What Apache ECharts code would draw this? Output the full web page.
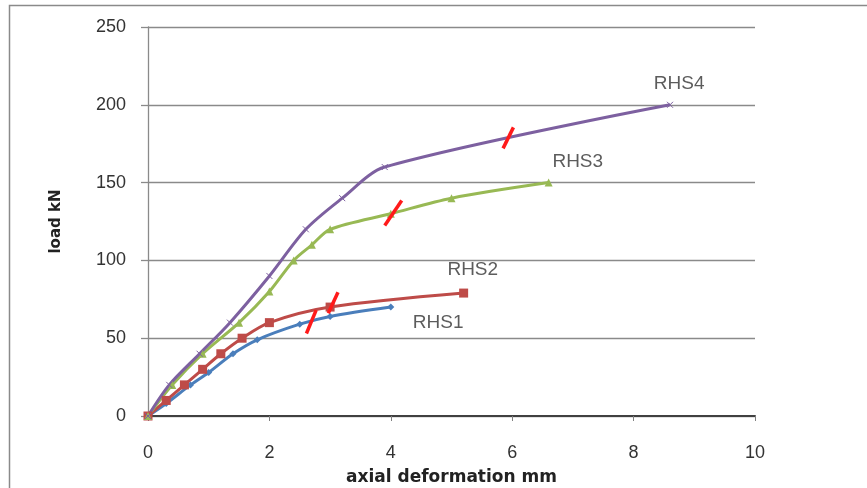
<!DOCTYPE html>
<html>
<head>
<meta charset="utf-8">
<script src="https://cdn.jsdelivr.net/npm/echarts@6/dist/echarts.min.js"></script>
<style>
  html, body { margin: 0; padding: 0; background: #fff; }
  #chart { width: 867px; height: 488px; }
</style>
</head>
<body>
<div id="chart"></div>
<script>
// load vs axial deformation, RHS1..RHS4
var rhs1X = [0, 0.3, 0.7, 1.0, 1.4, 1.8, 2.5, 3.0, 4.0];
var rhs1Y = [0, 8, 20, 28, 40, 49, 59, 64, 70];
var rhs2X = [0, 0.3, 0.6, 0.9, 1.2, 1.55, 2.0, 3.0, 5.2];
var rhs2Y = [0, 10, 20, 30, 40, 50, 60, 70, 79];
var rhs3X = [0, 0.4, 0.9, 1.5, 2.0, 2.4, 2.7, 3.0, 4.0, 5.0, 6.6];
var rhs3Y = [0, 20, 40, 60, 80, 100, 110, 120, 130, 140, 150];
var rhs4X = [0, 0.35, 0.85, 1.35, 2.0, 2.6, 3.2, 3.9, 8.6];
var rhs4Y = [0, 20, 40, 60, 90, 120, 140, 160, 200];

var labelNames = ['RHS1', 'RHS2', 'RHS3', 'RHS4'];
var labelX = [4.78, 5.35, 7.08, 8.75];
var labelY = [60, 94, 163.5, 213.5];

// red slash marks drawn across each curve
var slashX1 = [2.61, 2.97, 3.9, 5.85];
var slashY1 = [53, 66, 122.5, 172];
var slashX2 = [2.77, 3.13, 4.18, 6.02];
var slashY2 = [68, 79.5, 138.5, 185.5];

var colors = ['#4a7ebb', '#be4b48', '#98b954', '#7d60a0'];

function pairs(xs, ys) {
  return xs.map(function (x, i) { return [x, ys[i]]; });
}

var el = document.getElementById('chart');
var chart = echarts.init(el, null, { renderer: 'canvas' });

var lineSeries = [
  { name: 'RHS1', data: pairs(rhs1X, rhs1Y), symbol: 'diamond', symbolSize: 7 },
  { name: 'RHS2', data: pairs(rhs2X, rhs2Y), symbol: 'rect', symbolSize: 9 },
  { name: 'RHS3', data: pairs(rhs3X, rhs3Y), symbol: 'triangle', symbolSize: 8 },
  { name: 'RHS4', data: pairs(rhs4X, rhs4Y), symbol: 'path://M0,0L10,10M10,0L0,10', symbolSize: 6 }
].map(function (s, i) {
  return {
    name: s.name,
    type: 'line',
    data: s.data,
    smooth: 0.3,
    symbol: s.symbol,
    symbolSize: s.symbolSize,
    showAllSymbol: true,
    lineStyle: { color: colors[i], width: 3 },
    itemStyle: { color: colors[i], borderColor: colors[i], borderWidth: i === 3 ? 1 : 0 },
    z: 3
  };
});

var slashSeries = slashX1.map(function (x, i) {
  return {
    type: 'line',
    data: [[x, slashY1[i]], [slashX2[i], slashY2[i]]],
    symbol: 'none',
    lineStyle: { color: '#ff1a1a', width: 3.5 },
    z: 5
  };
});

var labelSeries = {
  type: 'scatter',
  data: pairs(labelX, labelY),
  symbolSize: 0,
  label: {
    show: true,
    position: 'inside',
    color: '#333',
    fontFamily: 'Liberation Sans',
    fontSize: 19,
    formatter: function (p) { return labelNames[p.dataIndex]; }
  },
  z: 6
};

chart.setOption({
  backgroundColor: '#fff',
  animation: false,
  graphic: [{
    type: 'rect',
    left: 7, top: 3,
    shape: { width: 880, height: 500 },
    style: { fill: 'none', stroke: '#8a8a8a', lineWidth: 1.5 },
    silent: true
  }],
  grid: { left: 148, right: 112, top: 27, bottom: 72, outerBoundsMode: 'none' },
  xAxis: {
    type: 'value',
    min: 0, max: 10, interval: 2,
    name: 'axial deformation mm',
    nameLocation: 'middle',
    nameGap: 53,
    nameTextStyle: { color: '#222', fontFamily: 'DejaVu Sans', fontWeight: 'bold', fontSize: 17 },
    axisLine: { show: true, lineStyle: { color: '#404040', width: 2 } },
    axisTick: { show: true, length: 5, lineStyle: { color: '#808080' } },
    axisLabel: { color: '#333', fontFamily: 'Liberation Sans', fontSize: 18, margin: 28 },
    splitLine: { show: false }
  },
  yAxis: {
    type: 'value',
    min: 0, max: 250, interval: 50,
    name: 'load kN',
    nameLocation: 'middle',
    nameGap: 84,
    nameTextStyle: { color: '#222', fontFamily: 'DejaVu Sans', fontWeight: 'bold', fontSize: 15 },
    axisLine: { show: true, lineStyle: { color: '#8a8a8a', width: 1.3 } },
    axisTick: { show: true, length: 7, lineStyle: { color: '#8a8a8a', width: 1.3 } },
    axisLabel: { color: '#333', fontFamily: 'Liberation Sans', fontSize: 18, margin: 22 },
    splitLine: { show: true, lineStyle: { color: '#8a8a8a', width: 1.3 } }
  },
  series: lineSeries.concat(slashSeries).concat([labelSeries])
});

window.addEventListener('resize', function () { chart.resize(); });
</script>
</body>
</html>
